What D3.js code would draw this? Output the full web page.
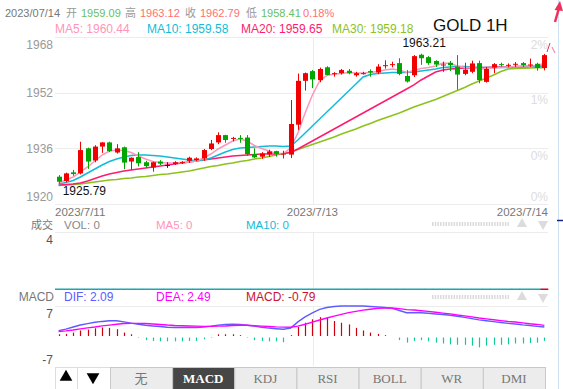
<!DOCTYPE html>
<html><head><meta charset="utf-8">
<script src="https://cdn.jsdelivr.net/npm/d3@7"></script>
<style>
body{margin:0;background:#fff;}
svg{display:block;font-family:"Liberation Sans",Arial,"Noto Sans CJK SC",sans-serif;}
</style>
</head><body>
<svg id="chart" width="563" height="389"></svg>
<script>
// ---------------- DATA ----------------
const openP  = [1927.85,1926.6,1929.1,1928.8,1936.0,1932.5,1936.5,1937.7,1934.8,1936.3,
                1932.2,1933.5,1932.0,1930.5,1932.2,1931.2,1931.5,1931.9,1932.4,1932.6,
                1933.1,1935.8,1937.7,1939.8,1938.8,1939.0,1939.1,1934.3,1933.6,1934.3,
                1935.2,1934.3,1934.2,1942.8,1955.4,1958.2,1955.6,1959.3,1957.3,1957.6,
                1958.3,1957.0,1957.5,1958.2,1957.8,1959.7,1960.0,1960.5,1956.8,1957.0,
                1962.9,1962.2,1961.1,1959.9,1960.6,1959.5,1957.4,1958.0,1960.5,1955.1,
                1959.2,1960.2,1959.8,1960.1,1960.5,1959.9,1960.3,1959.09];
const highP  = [1928.3,1929.0,1929.8,1937.9,1936.2,1936.9,1937.8,1937.9,1937.2,1936.5,
                1933.4,1934.9,1932.4,1932.2,1932.6,1932.0,1932.3,1932.3,1933.6,1933.4,
                1935.8,1938.4,1940.6,1939.9,1939.3,1939.8,1939.8,1936.0,1934.9,1935.6,
                1935.3,1935.3,1949.9,1957.5,1957.8,1958.5,1959.2,1959.6,1957.9,1958.8,
                1958.8,1958.0,1958.0,1958.7,1960.2,1961.3,1960.9,1961.9,1958.5,1962.8,
                1963.21,1962.5,1961.3,1960.9,1961.1,1962.8,1960.6,1961.2,1961.2,1959.4,
                1960.5,1960.6,1960.4,1960.8,1960.8,1961.8,1960.6,1963.12];
const lowP   = [1925.79,1926.2,1928.1,1928.5,1930.1,1932.0,1934.7,1934.9,1934.5,1930.0,
                1929.8,1930.8,1930.4,1929.3,1931.2,1930.4,1931.2,1931.5,1931.8,1932.3,
                1932.4,1935.5,1937.2,1937.6,1938.0,1937.6,1933.8,1933.2,1933.0,1933.5,
                1933.6,1933.1,1933.2,1941.3,1952.6,1953.3,1955.0,1957.0,1956.6,1957.2,
                1957.3,1956.6,1957.2,1956.6,1957.3,1958.9,1959.3,1957.0,1954.9,1956.5,
                1960.0,1960.0,1959.4,1958.0,1958.2,1952.8,1957.0,1957.6,1954.7,1954.9,
                1957.6,1959.5,1959.3,1959.4,1959.4,1959.4,1958.3,1958.41];
const closeP = [1926.4,1928.8,1928.6,1935.5,1932.2,1936.5,1937.7,1935.2,1936.0,1931.9,
                1933.3,1931.7,1930.9,1932.0,1931.6,1931.2,1932.0,1932.1,1933.3,1933.1,
                1935.5,1937.4,1939.8,1938.4,1939.0,1938.9,1934.3,1933.4,1934.5,1935.1,
                1934.4,1934.5,1943.0,1955.4,1957.6,1955.8,1958.8,1957.1,1957.6,1958.5,
                1957.6,1957.6,1957.6,1957.8,1959.5,1959.9,1960.2,1957.4,1955.2,1962.5,
                1961.9,1960.5,1960.1,1960.1,1959.9,1957.2,1958.6,1960.4,1955.6,1958.8,
                1960.2,1959.9,1960.0,1960.3,1959.9,1960.1,1959.1,1962.79];

const ma5  = [1926.04,1926.90,1927.76,1929.20,1930.64,1932.36,1934.08,1935.23,1935.52,1935.38,
              1934.80,1933.80,1932.93,1932.22,1931.93,1931.79,1931.79,1931.93,1932.07,1932.36,
              1933.22,1934.37,1935.81,1936.96,1938.11,1938.68,1938.11,1936.82,1935.95,1935.23,
              1934.52,1934.52,1936.10,1940.41,1946.16,1951.33,1955.36,1956.94,1957.37,1957.51,
              1957.80,1957.65,1957.65,1957.80,1958.09,1958.52,1958.80,1958.52,1957.80,1958.37,
              1958.95,1959.24,1959.67,1960.53,1960.39,1959.67,1959.24,1959.24,1958.80,1958.95,
              1959.09,1959.24,1959.38,1959.52,1959.67,1959.67,1959.81,1960.44];
const ma10 = [1925.75,1926.18,1926.75,1927.76,1928.91,1930.06,1931.21,1932.22,1932.93,1933.51,
              1933.94,1934.08,1934.08,1933.94,1933.80,1933.51,1933.22,1932.93,1932.65,1932.50,
              1932.65,1933.22,1934.08,1934.95,1935.67,1936.10,1936.24,1936.38,1936.53,1936.67,
              1936.67,1936.53,1936.67,1938.40,1940.41,1942.42,1944.43,1946.44,1948.46,1950.47,
              1952.48,1954.49,1956.50,1957.22,1957.51,1957.65,1957.80,1957.80,1957.80,1957.94,
              1958.23,1958.52,1958.80,1959.24,1959.38,1959.52,1959.52,1959.38,1959.24,1959.24,
              1959.24,1959.24,1959.24,1959.38,1959.38,1959.44,1959.52,1959.58];
const ma20 = [1925.46,1925.60,1925.75,1926.04,1926.61,1927.33,1928.05,1928.62,1929.05,1929.49,
              1929.77,1930.06,1930.35,1930.64,1930.92,1931.21,1931.50,1931.79,1932.07,1932.36,
              1932.65,1932.93,1933.22,1933.51,1933.80,1933.94,1934.08,1934.23,1934.37,1934.37,
              1934.37,1934.52,1934.81,1935.81,1936.96,1938.11,1939.26,1940.41,1941.56,1942.71,
              1943.86,1945.01,1946.16,1947.31,1948.46,1949.61,1950.76,1951.91,1953.06,1954.21,
              1955.64,1956.79,1957.94,1958.52,1958.80,1958.95,1959.09,1959.09,1959.24,1959.24,
              1959.38,1959.38,1959.38,1959.52,1959.52,1959.58,1959.61,1959.65];
const ma30 = [1925.32,1925.46,1925.60,1925.75,1926.04,1926.32,1926.61,1926.90,1927.04,1927.33,
              1927.47,1927.76,1927.90,1928.19,1928.48,1928.62,1928.91,1929.20,1929.49,1929.92,
              1930.35,1930.78,1931.07,1931.50,1931.79,1932.22,1932.50,1932.93,1933.22,1933.65,
              1934.08,1934.52,1934.95,1935.67,1936.38,1937.10,1937.82,1938.54,1939.26,1940.12,
              1940.84,1941.56,1942.42,1943.14,1944.00,1944.72,1945.44,1946.16,1947.02,1947.88,
              1948.60,1949.32,1950.04,1950.90,1951.76,1952.62,1953.49,1954.49,1955.36,1956.22,
              1957.08,1958.09,1958.80,1958.95,1959.03,1959.09,1959.15,1959.18];

const volume = [0,0,0,0,0,0,0,0,0,0, 0,0,0,0,0,0,0,0,0,0, 0,0,0,0,0,0,0,0,0,0,
                0,0,0,0,0,0,0,0,0,0, 0,0,0,0,0,0,0,0,0,0, 0,0,0,0,0,0,0,0,0,0,
                0,0,0,0,0,0,0,0];

const dif = [1.24,1.6,2.1,2.57,2.9,3.2,3.4,3.55,3.57,3.3,
             3.0,2.75,2.5,2.35,2.2,2.05,2.0,1.98,1.98,2.0,
             2.1,2.3,2.55,2.7,2.73,2.7,2.5,2.3,2.05,1.85,
             1.7,1.56,1.85,3.3,4.45,5.4,6.2,6.65,6.88,7.0,
             7.0,7.0,7.0,6.9,6.8,6.65,6.46,5.95,5.44,5.44,
             5.44,5.3,5.15,5.0,4.85,4.6,4.35,4.05,3.75,3.55,
             3.35,3.15,2.95,2.8,2.6,2.45,2.25,2.09];
const dea = [1.05,1.2,1.4,1.65,1.9,2.1,2.35,2.55,2.75,2.9,
             2.95,2.95,2.9,2.8,2.7,2.55,2.45,2.4,2.35,2.3,
             2.25,2.25,2.3,2.35,2.45,2.5,2.5,2.4,2.3,2.2,
             2.12,2.08,2.05,2.3,2.75,3.25,3.73,4.2,4.65,5.05,
             5.44,5.75,6.05,6.25,6.46,6.55,6.55,6.4,6.15,6.05,
             5.9,5.75,5.55,5.35,5.15,4.9,4.7,4.45,4.2,4.0,
             3.8,3.6,3.4,3.25,3.05,2.85,2.7,2.49];
const macdHist = [0.4,0.5,0.8,1.3,1.5,1.8,2.0,1.9,1.6,0.8,0.4,
                  -0.1,-0.6,-0.8,-0.9,-0.9,-0.9,-0.9,-0.8,-0.8,-0.4,
                  -0.1,0.4,0.4,0.4,0.2,-0.1,-0.6,-0.8,-0.9,-0.9,
                  -1.1,0.2,2.1,3.1,3.9,4.4,4.3,3.5,3.1,2.7,
                  1.9,1.3,0.8,0.5,0.2,0,-0.6,-1.2,-0.8,-0.6,
                  -0.9,-1.2,-1.4,-1.6,-1.7,-1.7,-1.9,-2.3,-1.9,-1.7,
                  -1.7,-1.6,-1.4,-1.4,-1.3,-1.2,-0.79];

const priceTicks = [1968, 1952, 1936, 1920];
const pctTicks   = ["2%", "1%", "0%", "0%"];
const volTicks   = [4];
const macdTicks  = [7, -7];
const dateLabels = ["2023/7/11", "2023/7/13", "2023/7/14"];
const dateIdx    = [0, 35, 67];
const tabs       = ["无", "MACD", "KDJ", "RSI", "BOLL", "WR", "DMI"];
const activeTab  = "MACD";
const headDate   = "2023/07/14";
const headNames  = ["开", "高", "收", "低"];
const changePct  = "0.18%";
const titleText  = "GOLD 1H";

// ---------------- SCALES ----------------
const svg = d3.select("#chart");
const n = closeP.length, last = n - 1;
const idx = d3.range(n);
const L = 55, R = 548;
const x = d3.scaleBand().domain(idx).range([L, R]).padding(0);
const cx = i => x(i) + x.bandwidth() / 2;
const y = d3.scaleLinear().domain([1920, 1968]).range([204, 37]);
const yv = d3.scaleLinear().domain([0, 4]).range([290, 236]);
const ym = d3.scaleLinear().domain([-7, 7]).range([366, 306]);

const C = {red:"#f20000", green:"#00a600", grid:"#ececec", axis:"#999",
  ma5:"#ff95b9", ma10:"#12bcd8", ma20:"#ff1a70", ma30:"#8cc21c",
  dif:"#5c5cff", dea:"#ff00ff", hUp:"#d00010", hDn:"#10c898"};

// ---------------- HEADER ----------------
const hdr = svg.append("g").attr("font-size", 11);
hdr.append("text").attr("x", 5).attr("y", 17).attr("fill", "#777").text(headDate);
const hv = [openP[last], highP[last], closeP[last], lowP[last]];
const hx = [66, 125, 185, 246];
hv.forEach((v, k) => {
  hdr.append("text").attr("x", hx[k]).attr("y", 17).attr("fill", "#999")
     .attr("font-family", "'Noto Sans CJK SC'").attr("font-size", 11).text(headNames[k]);
  hdr.append("text").attr("x", hx[k] + 15).attr("y", 17)
     .attr("fill", v >= closeP[last - 1] ? "#ff6f6f" : "#66c066").text(v.toFixed(2));
});
hdr.append("text").attr("x", 303).attr("y", 17).attr("fill", "#ff6f6f").text(changePct);

const maRow = [["MA5", ma5, C.ma5, 55], ["MA10", ma10, C.ma10, 147],
               ["MA20", ma20, C.ma20, 241], ["MA30", ma30, C.ma30, 332]];
svg.append("g").attr("font-size", 12).selectAll("text").data(maRow).join("text")
  .attr("x", d => d[3]).attr("y", 33).attr("fill", d => d[2])
  .text(d => d[0] + ": " + d[1][last].toFixed(2));

svg.append("text").attr("x", 433).attr("y", 31).attr("font-size", 17).attr("fill", "#111")
  .text(titleText);

// ---------------- MAIN GRID ----------------
const g = svg.append("g");
g.selectAll("line.h").data(priceTicks).join("line")
  .attr("x1", L).attr("x2", R).attr("y1", d => Math.round(y(d)) + 0.5).attr("y2", d => Math.round(y(d)) + 0.5)
  .attr("stroke", C.grid);
g.append("line").attr("x1", 313.5).attr("x2", 313.5).attr("y1", 37).attr("y2", 204).attr("stroke", C.grid);

g.selectAll("text.yl").data(priceTicks).join("text")
  .attr("x", 53).attr("text-anchor", "end").attr("font-size", 12).attr("fill", C.axis)
  .attr("y", (d, k) => y(d) + (k === 0 ? 8 : k === priceTicks.length - 1 ? -7 : 0)).attr("dy", "0.36em")
  .text(d => d);
g.selectAll("text.pl").data(pctTicks).join("text")
  .attr("x", 548).attr("text-anchor", "end").attr("font-size", 12).attr("fill", "#dcdcdc")
  .attr("y", (d, k) => y(priceTicks[k]) + (k === 0 ? 8 : k === pctTicks.length - 1 ? -7 : 7)).attr("dy", "0.36em")
  .text(d => d);

// dates
svg.selectAll("text.date").data(dateLabels).join("text")
  .attr("font-size", 11.5).attr("fill", "#777").attr("y", 215.5)
  .attr("x", (d, k) => k === 0 ? x(dateIdx[k]) : k === dateLabels.length - 1 ? x(dateIdx[k]) + x.bandwidth() : cx(dateIdx[k]))
  .attr("text-anchor", (d, k) => k === 0 ? "start" : k === dateLabels.length - 1 ? "end" : "middle")
  .text(d => d);

// ---------------- MA LINES ----------------
const lineP = arr => d3.line().x((d, i) => cx(i)).y(d => y(d))(arr);
[[ma30, C.ma30], [ma20, C.ma20], [ma10, C.ma10], [ma5, C.ma5]].forEach(([arr, col]) => {
  svg.append("path").attr("d", lineP(arr)).attr("fill", "none").attr("stroke", col).attr("stroke-width", 1.5);
});

// ---------------- CANDLES ----------------
const colOf = i => closeP[i] > openP[i] ? C.red : closeP[i] < openP[i] ? C.green : "#222";
const cg = svg.append("g");
cg.selectAll("line").data(idx).join("line")
  .attr("x1", i => Math.round(cx(i)) + 0.5).attr("x2", i => Math.round(cx(i)) + 0.5)
  .attr("y1", i => y(highP[i])).attr("y2", i => y(lowP[i])).attr("stroke", colOf);
cg.selectAll("rect").data(idx).join("rect")
  .attr("x", i => Math.round(cx(i)) - 2).attr("width", 5)
  .attr("y", i => y(Math.max(openP[i], closeP[i])))
  .attr("height", i => Math.max(1, Math.abs(y(openP[i]) - y(closeP[i]))))
  .attr("fill", colOf);

// extremes
const hi = d3.maxIndex(highP), lo = d3.minIndex(lowP);
svg.append("text").attr("x", cx(hi) + 3).attr("y", y(highP[hi]) - 7).attr("text-anchor", "middle")
  .attr("font-size", 12).attr("fill", "#111").text(highP[hi].toFixed(2));
svg.append("text").attr("x", cx(lo) + 4).attr("y", y(lowP[lo]) + 11).attr("font-size", 12)
  .attr("fill", "#111").text(lowP[lo].toFixed(2));

// ---------------- VOLUME PANEL ----------------
const vg = svg.append("g").attr("font-size", 11.5);
vg.append("text").attr("x", 53).attr("y", 229).attr("text-anchor", "end").attr("fill", "#777")
  .attr("font-family", "'Noto Sans CJK SC'").attr("font-size", 11).text("成交");
vg.append("text").attr("x", 64).attr("y", 229).attr("fill", "#888").text("VOL: " + volume[last]);
vg.append("text").attr("x", 156).attr("y", 229).attr("fill", C.ma5).text("MA5: 0");
vg.append("text").attr("x", 246).attr("y", 229).attr("fill", C.ma10).text("MA10: 0");
vg.append("line").attr("x1", L).attr("x2", R).attr("y1", 232.5).attr("y2", 232.5).attr("stroke", C.grid);
vg.append("line").attr("x1", 313.5).attr("x2", 313.5).attr("y1", 232).attr("y2", 290).attr("stroke", C.grid);
vg.selectAll("text.vt").data(volTicks).join("text").attr("x", 53).attr("text-anchor", "end")
  .attr("font-size", 12).attr("y", d => yv(d) + 4).attr("dy", "0.36em").attr("fill", "#555").text(d => d);
vg.selectAll("rect").data(idx).join("rect")
  .attr("x", i => x(i)).attr("width", x.bandwidth() + 0.3)
  .attr("y", i => yv(volume[i]) - 1.5).attr("height", i => Math.max(1.5, yv(0) - yv(volume[i])))
  .attr("fill", i => i === last ? "#e00020" : "#1aa6ae");

// small right widgets
function widgets(yc) {
  svg.append("line").attr("x1", 432).attr("x2", 509).attr("y1", yc).attr("y2", yc)
    .attr("stroke", "#dadada").attr("stroke-width", 4).attr("stroke-dasharray", "1.5,1.2");
  svg.append("path").attr("d", d3.symbol(d3.symbolTriangle, 45)())
    .attr("transform", `translate(522,${yc})`).attr("fill", "#dcdcdc");
  svg.append("path").attr("d", d3.symbol(d3.symbolTriangle, 45)())
    .attr("transform", `translate(543,${yc}) rotate(180)`).attr("fill", "#dcdcdc");
}
widgets(224);
widgets(297);

// ---------------- MACD PANEL ----------------
const mg = svg.append("g").attr("font-size", 12);
mg.append("text").attr("x", 54).attr("y", 301).attr("text-anchor", "end").attr("fill", "#777").text("MACD");
mg.append("text").attr("x", 64).attr("y", 301).attr("fill", C.dif).text("DIF: " + dif[last].toFixed(2));
mg.append("text").attr("x", 156).attr("y", 301).attr("fill", C.dea).text("DEA: " + dea[last].toFixed(2));
mg.append("text").attr("x", 246).attr("y", 301).attr("fill", "#cc1030").text("MACD: " + macdHist[last].toFixed(2));
mg.append("line").attr("x1", L).attr("x2", R).attr("y1", 306.5).attr("y2", 306.5).attr("stroke", C.grid);
mg.append("line").attr("x1", 313.5).attr("x2", 313.5).attr("y1", 306).attr("y2", 366).attr("stroke", C.grid);
mg.selectAll("text.mt").data(macdTicks).join("text").attr("x", 53).attr("text-anchor", "end")
  .attr("y", d => ym(d) + (d > 0 ? 8 : -6)).attr("dy", "0.36em").attr("fill", "#555").text(d => d);
mg.selectAll("line.hb").data(idx).join("line")
  .attr("x1", i => Math.round(cx(i)) + 0.5).attr("x2", i => Math.round(cx(i)) + 0.5)
  .attr("y1", i => macdHist[i] >= 0 ? ym(0) : ym(0) + 1.5)
  .attr("y2", i => ym(macdHist[i]) + (macdHist[i] >= 0 ? 0 : 1.5))
  .attr("stroke", i => macdHist[i] >= 0 ? C.hUp : C.hDn).attr("stroke-width", 1.2);
const lineM = arr => d3.line().x((d, i) => cx(i)).y(d => ym(d))(arr);
mg.append("path").attr("d", lineM(dif)).attr("fill", "none").attr("stroke", C.dif).attr("stroke-width", 1.4);
mg.append("path").attr("d", lineM(dea)).attr("fill", "none").attr("stroke", C.dea).attr("stroke-width", 1.4);

// ---------------- BUTTONS ----------------
const bg = svg.append("g");
bg.append("rect").attr("x", 55.5).attr("y", 367.5).attr("width", 22).attr("height", 22).attr("fill", "#fff").attr("stroke", "#ddd");
bg.append("rect").attr("x", 77.5).attr("y", 367.5).attr("width", 33).attr("height", 22).attr("fill", "#fff").attr("stroke", "#ddd");
bg.append("path").attr("d", d3.symbol(d3.symbolTriangle, 70)()).attr("transform", "translate(66,377)").attr("fill", "#000");
bg.append("path").attr("d", d3.symbol(d3.symbolTriangle, 70)()).attr("transform", "translate(93,377) rotate(180)").attr("fill", "#000");
const tx = d3.scaleBand().domain(tabs).range([110, 545]);
const tg = bg.selectAll("g.tab").data(tabs).join("g").attr("transform", d => `translate(${tx(d)},0)`);
tg.append("rect").attr("x", 0.5).attr("y", 367.5).attr("width", tx.bandwidth()).attr("height", 23)
  .attr("fill", d => d === activeTab ? "#464646" : "#ececec").attr("stroke", "#c8c8c8");
tg.append("text").attr("x", tx.bandwidth() / 2).attr("y", 383).attr("text-anchor", "middle")
  .attr("font-family", d => d === "无" ? "'Noto Sans CJK SC'" : "'Liberation Serif','Times New Roman',serif")
  .attr("font-size", 13).attr("font-weight", d => d === activeTab ? "bold" : "normal")
  .attr("fill", d => d === activeTab ? "#fff" : "#777").text(d => d);

// ---------------- RIGHT EDGE DECOR ----------------
svg.append("line").attr("x1", 558.5).attr("x2", 558.5).attr("y1", 0).attr("y2", 389).attr("stroke", "#cfe2f3");
svg.append("line").attr("x1", 555).attr("y1", 22).attr("x2", 559).attr("y2", 8).attr("stroke", "#f0305a").attr("stroke-width", 2.5);
svg.append("path").attr("d", "M554.5,10 L560,1 L563,11 Z").attr("fill", "#f0305a");
svg.append("line").attr("x1", 547).attr("y1", 52).attr("x2", 550).attr("y2", 43).attr("stroke", "#f0305a").attr("stroke-width", 1);
svg.append("line").attr("x1", 552).attr("y1", 47).attr("x2", 555).attr("y2", 53).attr("stroke", "#f07090").attr("stroke-width", 1);
svg.append("line").attr("x1", 557).attr("y1", 220.5).attr("x2", 563).attr("y2", 220.5).attr("stroke", "#1a237e").attr("stroke-width", 1.5);
</script>
</body></html>
